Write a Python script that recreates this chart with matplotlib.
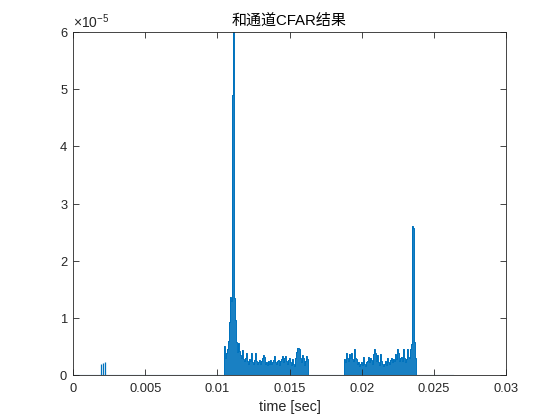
import numpy as np
import matplotlib
matplotlib.use("Agg")
import matplotlib.pyplot as plt
from matplotlib.ticker import FormatStrFormatter, ScalarFormatter

plt.rcParams['font.family'] = ['Liberation Sans', 'Noto Sans CJK SC', 'DejaVu Sans']
plt.rcParams['axes.unicode_minus'] = False
plt.rcParams['mathtext.fontset'] = 'custom'
plt.rcParams['mathtext.rm'] = 'Liberation Sans'

blue = '#0072BD'
axcol = '#262626'

# signal extent (sec)
t_end = 0.0263

# small pulses near 2 ms (values in 1e-5)
pulse_t = [0.00194, 0.00206, 0.00219]
pulse_v = [0.20, 0.21, 0.23]

# first detection cluster, 0.01045 .. 0.01626 s (values in 1e-5)
c1_start, c1_end = 0.01045, 0.01626
c1_v = [0.30, 0.50, 0.30, 0.38, 0.45, 0.60, 0.93, 1.37, 1.30, 4.90,
        6.00, 1.35, 0.96, 0.58, 0.40, 0.56, 0.42, 0.35, 0.30, 0.44,
        0.28, 0.25, 0.30, 0.38, 0.25, 0.20, 0.28, 0.24, 0.38, 0.22,
        0.20, 0.26, 0.39, 0.24, 0.20, 0.22, 0.26, 0.20, 0.24, 0.30,
        0.35, 0.31, 0.20, 0.22, 0.18, 0.24, 0.20, 0.27, 0.19, 0.22,
        0.26, 0.33, 0.22, 0.20, 0.25, 0.27, 0.18, 0.24, 0.28, 0.33,
        0.22, 0.30, 0.34, 0.25, 0.20, 0.26, 0.30, 0.22, 0.18, 0.28,
        0.20, 0.16, 0.30, 0.40, 0.48, 0.47, 0.45, 0.30, 0.22, 0.35,
        0.30, 0.18, 0.25, 0.34, 0.28]

# second detection cluster, 0.01875 .. 0.02374 s (values in 1e-5)
c2_start, c2_end = 0.01875, 0.02374
c2_v = [0.10, 0.28, 0.22, 0.38, 0.30, 0.25, 0.37, 0.30, 0.38, 0.28,
        0.25, 0.45, 0.30, 0.28, 0.20, 0.23, 0.15, 0.20, 0.23, 0.18,
        0.32, 0.20, 0.16, 0.22, 0.25, 0.31, 0.22, 0.30, 0.26, 0.20,
        0.36, 0.45, 0.38, 0.25, 0.35, 0.22, 0.18, 0.36, 0.25, 0.20,
        0.15, 0.20, 0.24, 0.18, 0.30, 0.22, 0.20, 0.26, 0.30, 0.22,
        0.28, 0.25, 0.36, 0.28, 0.45, 0.38, 0.25, 0.30, 0.32, 0.24,
        0.46, 0.30, 0.22, 0.28, 0.45, 0.32, 0.30, 0.46, 0.55, 2.60,
        2.57, 0.58, 0.30]

scale = 1e-5

fig = plt.figure(figsize=(5.6, 4.2), dpi=100)
ax = fig.add_axes([0.1304, 0.1071, 0.7732, 0.8167])

ax.plot([0, t_end], [0, 0], color=blue, lw=0.8)
ax.vlines(pulse_t, 0, np.array(pulse_v) * scale, color=blue, lw=0.9)

for s, e, v in [(c1_start, c1_end, c1_v), (c2_start, c2_end, c2_v)]:
    t = np.linspace(s, e, len(v))
    y = np.array(v) * scale
    ax.fill_between(t, 0, y, color=blue, lw=0, alpha=0.9, step='mid')
    ax.plot(np.r_[s, t, e], np.r_[0, y, 0], color=blue, lw=0.7,
            drawstyle='steps-mid')

ax.set_xlim(0, 0.03)
ax.set_ylim(0, 6e-5)
ax.set_xticks(np.arange(0, 0.0301, 0.005))
ax.xaxis.set_major_formatter(FormatStrFormatter('%g'))
ax.set_yticks(np.arange(0, 6.01e-5, 1e-5))
fmt = ScalarFormatter(useMathText=True)
fmt.set_powerlimits((0, 0))
ax.yaxis.set_major_formatter(fmt)
ax.yaxis.get_offset_text().set_fontsize(10)
ax.yaxis.get_offset_text().set_color(axcol)

ax.tick_params(direction='in', length=4, width=0.6, colors=axcol,
               labelsize=9.3, top=True, right=True, labelcolor=axcol)
ax.tick_params(axis='x', pad=6)
for sp in ax.spines.values():
    sp.set_linewidth(0.6)
    sp.set_color(axcol)

ax.set_xlabel('time [sec]', fontsize=10.4, color=axcol, labelpad=3)
ax.set_title('和通道CFAR结果', fontsize=10.8, color='black', pad=5)

fig.savefig('out.png', dpi=100)
